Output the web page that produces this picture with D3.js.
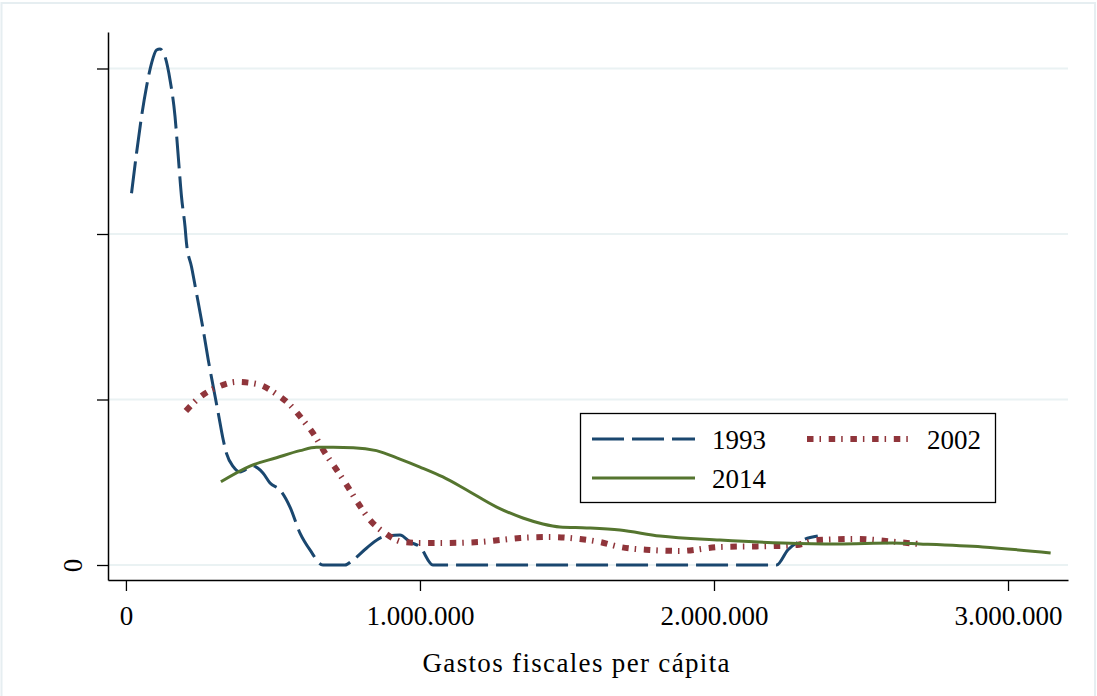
<!DOCTYPE html>
<html>
<head>
<meta charset="utf-8">
<script src="https://cdn.jsdelivr.net/npm/d3@7"></script>
<style>
    body { margin: 0; background: #fff; }
    text { font-family: "Liberation Serif", "DejaVu Serif", serif; fill: #000; }
</style>
</head>
<body>
<div class="container"></div>
<script>
// 数据：核密度估计 (x = 人均财政支出, y = 密度 × 10^-6)
const series = ["1993", "2002", "2014"];

const density1993 = [
    [19000, 2.246], [36000, 2.488], [53000, 2.709], [70000, 2.890], [87000, 3.031],
    [104000, 3.112], [116000, 3.118], [133000, 3.071], [150000, 2.931], [167000, 2.709],
    [178000, 2.467], [189000, 2.225], [201000, 2.044], [206000, 1.944], [223000, 1.802],
    [240000, 1.642], [261000, 1.440], [280000, 1.239], [297000, 1.077], [314000, 0.917],
    [331000, 0.755], [342000, 0.675], [365000, 0.594], [388000, 0.562], [432000, 0.598],
    [466000, 0.556], [490000, 0.495], [524000, 0.453], [558000, 0.350], [592000, 0.193],
    [626000, 0.091], [670000, 0], [745000, 0], [772000, 0.030], [819000, 0.103],
    [874000, 0.169], [932000, 0.181], [966000, 0.139], [1000000, 0.109], [1044000, 0],
    [2213000, 0], [2251000, 0.091], [2302000, 0.151], [2353000, 0.175]
];

const density2002 = [
    [204000, 0.931], [252000, 1.015], [313000, 1.076], [377000, 1.106], [445000, 1.094],
    [507000, 1.039], [558000, 0.967], [602000, 0.876], [643000, 0.779], [677000, 0.677],
    [717000, 0.574], [751000, 0.483], [789000, 0.375], [830000, 0.272], [881000, 0.193],
    [942000, 0.139], [1006000, 0.133], [1074000, 0.133], [1204000, 0.139], [1272000, 0.151],
    [1340000, 0.163], [1442000, 0.169], [1544000, 0.157], [1612000, 0.139], [1680000, 0.109],
    [1782000, 0.091], [1884000, 0.085], [2020000, 0.109], [2213000, 0.115], [2282000, 0.121],
    [2350000, 0.151], [2486000, 0.157], [2622000, 0.139], [2696000, 0.127]
];

const density2014 = [
    [323000, 0.503], [422000, 0.598], [512000, 0.648], [592000, 0.691], [648000, 0.711],
    [705000, 0.711], [773000, 0.709], [852000, 0.691], [932000, 0.640], [1000000, 0.592],
    [1078000, 0.532], [1159000, 0.453], [1261000, 0.350], [1350000, 0.284], [1418000, 0.248],
    [1476000, 0.230], [1567000, 0.224], [1680000, 0.211], [1816000, 0.175], [2020000, 0.151],
    [2234000, 0.133], [2418000, 0.127], [2608000, 0.133], [2700000, 0.127], [2914000, 0.109],
    [3145000, 0.073]
];

const xTicks = [0, 1000000, 2000000, 3000000];
const yTicks = [0, 1, 2, 3];
const yTickLabels = ["0", "", "", ""];
const xTitle = "Gastos fiscales per cápita";

function drawChart() {
    let width = 1097;
    let height = 696;

    let svg = d3.select(".container").append("svg")
        .attr("width", width)
        .attr("height", height);

    // 外框
    svg.append("rect")
        .attr("x", 1.5).attr("y", 3)
        .attr("width", 1093.5).attr("height", 720)
        .attr("fill", "none")
        .attr("stroke", "#e6eef1")
        .attr("stroke-width", 2);

    let x = d3.scaleLinear().domain([-61000, 3204000]).range([108, 1068]);
    let y = d3.scaleLinear().domain([-0.0906, 3.2205]).range([580, 32]);

    // 网格线
    svg.append("g")
        .selectAll("line")
        .data(yTicks)
        .enter()
        .append("line")
        .attr("x1", x.range()[0])
        .attr("x2", x.range()[1])
        .attr("y1", d => y(d))
        .attr("y2", d => y(d))
        .attr("stroke", "#eaf2f3")
        .attr("stroke-width", 2);

    let locale = d3.formatLocale({decimal: ",", thousands: ".", grouping: [3], currency: ["$", ""]});
    let fmt = locale.format(",");

    // x 轴
    let xAxis = svg.append("g")
        .attr("transform", "translate(0," + y.range()[0] + ")")
        .call(d3.axisBottom(x).tickValues(xTicks).tickFormat(fmt)
            .tickSizeInner(11).tickSizeOuter(0).tickPadding(15));
    xAxis.select(".domain").attr("stroke", "#000").attr("stroke-width", 1.5);
    xAxis.selectAll(".tick line").attr("stroke", "#000").attr("stroke-width", 1.3);
    xAxis.selectAll("text").attr("font-size", "27px").attr("font-family", "Liberation Serif").attr("fill", "#000");

    // y 轴
    let yAxis = svg.append("g")
        .attr("transform", "translate(" + x.range()[0] + ",0)")
        .call(d3.axisLeft(y).tickValues(yTicks).tickFormat((d, i) => yTickLabels[i])
            .tickSizeInner(11).tickSizeOuter(0).tickPadding(14));
    yAxis.select(".domain").attr("stroke", "#000").attr("stroke-width", 1.5);
    yAxis.selectAll(".tick line").attr("stroke", "#000").attr("stroke-width", 1.3);
    yAxis.selectAll("text")
        .attr("font-size", "27px")
        .attr("font-family", "Liberation Serif")
        .attr("fill", "#000")
        .attr("text-anchor", "middle")
        .attr("dy", 0)
        .attr("x", 0)
        .attr("y", 0)
        .attr("transform", "translate(-35,0) rotate(-90)")
        .attr("dominant-baseline", "central");

    // x 轴标题
    svg.append("text")
        .attr("x", 576)
        .attr("y", 672)
        .attr("text-anchor", "middle")
        .attr("font-size", "27px")
        .attr("textLength", 307)
        .attr("lengthAdjust", "spacing")
        .text(xTitle);

    let line = d3.line()
        .x(d => x(d[0]))
        .y(d => y(d[1]))
        .curve(d3.curveMonotoneX);

    let styles = [
        {data: density1993, color: "#1a476f", width: 3, dash: "32,8"},
        {data: density2002, color: "#90353b", width: 6, dash: "6.5,6,1.5,7.7"},
        {data: density2014, color: "#55752f", width: 3, dash: null}
    ];

    // 绘制曲线
    svg.append("g")
        .selectAll("path")
        .data(styles)
        .enter()
        .append("path")
        .attr("d", d => line(d.data))
        .attr("fill", "none")
        .attr("stroke", d => d.color)
        .attr("stroke-width", d => d.width)
        .attr("stroke-dasharray", d => d.dash);

    // 图例
    let legend = svg.append("g");
    legend.append("rect")
        .attr("x", 580.5).attr("y", 413.5)
        .attr("width", 415).attr("height", 89)
        .attr("fill", "#fff")
        .attr("stroke", "#000")
        .attr("stroke-width", 1.3);

    let legendPos = [
        {sx: 592, ty: 449, ly: 439},
        {sx: 807, ty: 449, ly: 439},
        {sx: 592, ty: 488, ly: 478}
    ];

    legendPos.forEach((p, i) => {
        let s = styles[i];
        legend.append("line")
            .attr("x1", p.sx).attr("x2", p.sx + 103)
            .attr("y1", p.ly).attr("y2", p.ly)
            .attr("stroke", s.color)
            .attr("stroke-width", s.width)
            .attr("stroke-dasharray", s.dash);
        legend.append("text")
            .attr("x", p.sx + 120)
            .attr("y", p.ty)
            .attr("font-size", "27px")
            .text(series[i]);
    });
}

drawChart();
</script>
</body>
</html>
